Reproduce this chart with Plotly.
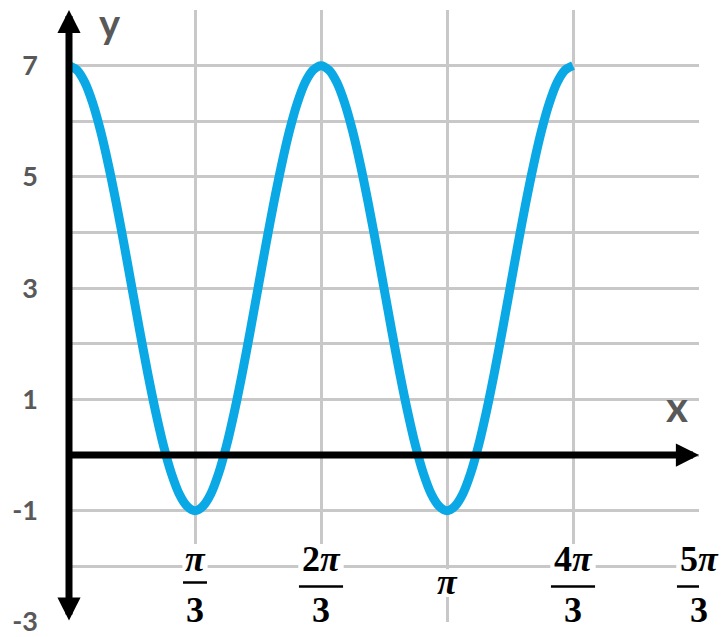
import plotly.graph_objects as go

# x in units of pi/3 ; y values
x_thirds_pi = [0, 0.0625, 0.125, 0.1875, 0.25, 0.3125, 0.375, 0.4375, 0.5,
               0.5625, 0.625, 0.6875, 0.75, 0.8125, 0.875, 0.9375, 1.0,
               1.0625, 1.125, 1.1875, 1.25, 1.3125, 1.375, 1.4375, 1.5,
               1.5625, 1.625, 1.6875, 1.75, 1.8125, 1.875, 1.9375, 2.0,
               2.0625, 2.125, 2.1875, 2.25, 2.3125, 2.375, 2.4375, 2.5,
               2.5625, 2.625, 2.6875, 2.75, 2.8125, 2.875, 2.9375, 3.0,
               3.0625, 3.125, 3.1875, 3.25, 3.3125, 3.375, 3.4375, 3.5,
               3.5625, 3.625, 3.6875, 3.75, 3.8125, 3.875, 3.9375, 4.0]
y_vals = [7, 6.92, 6.7, 6.33, 5.83, 5.22, 4.53, 3.78, 3,
          2.22, 1.47, 0.78, 0.17, -0.33, -0.7, -0.92, -1,
          -0.92, -0.7, -0.33, 0.17, 0.78, 1.47, 2.22, 3,
          3.78, 4.53, 5.22, 5.83, 6.33, 6.7, 6.92, 7,
          6.92, 6.7, 6.33, 5.83, 5.22, 4.53, 3.78, 3,
          2.22, 1.47, 0.78, 0.17, -0.33, -0.7, -0.92, -1,
          -0.92, -0.7, -0.33, 0.17, 0.78, 1.47, 2.22, 3,
          3.78, 4.53, 5.22, 5.83, 6.33, 6.7, 6.92, 7]

y_tick_vals = [7, 5, 3, 1, -1, -3]
y_tick_text = ["7", "5", "3", "1", "-1", "-3"]

x_tick_pos = [1, 2, 3, 4, 5]
x_tick_num = ["<i>π</i>", "2<i>π</i>", "<i>π</i>", "4<i>π</i>", "5<i>π</i>"]
x_tick_den = ["3", "3", "", "3", "3"]

GRID = "#c8c8c8"
LABEL = "#595959"
CURVE = "#0aa9e6"

fig = go.Figure()
fig.add_trace(go.Scatter(x=x_thirds_pi, y=y_vals, mode="lines",
                         line=dict(color=CURVE, width=9, shape="spline", smoothing=0.8),
                         hoverinfo="skip", showlegend=False))

shapes = []
annotations = []

SERIF = dict(family="Liberation Serif", size=36, color="black")

for pos, num, den in zip(x_tick_pos, x_tick_num, x_tick_den):
    if den:
        half = 0.1 if num == "<i>π</i>" else 0.18
        shapes.append(dict(type="rect", xref="x", yref="y", x0=pos - half, x1=pos + half,
                           y0=-2.95, y1=-1.6, fillcolor="white", line=dict(width=0), layer="above"))
        bar_y = -2.29 if num == "<i>π</i>" else -2.36
        shapes.append(dict(type="line", xref="x", yref="y", x0=pos - half + 0.005, x1=pos + half - 0.005,
                           y0=bar_y, y1=bar_y, line=dict(color="black", width=2.5), layer="above"))
        annotations.append(dict(x=pos, y=-1.86, xref="x", yref="y", text="<b>" + num + "</b>",
                                showarrow=False, xanchor="center", yanchor="middle", font=SERIF))
        annotations.append(dict(x=pos, y=-2.78, xref="x", yref="y", text="<b>" + den + "</b>",
                                showarrow=False, xanchor="center", yanchor="middle", font=SERIF))
    else:
        shapes.append(dict(type="rect", xref="x", yref="y", x0=pos - 0.09, x1=pos + 0.09,
                           y0=-2.55, y1=-2.05, fillcolor="white", line=dict(width=0), layer="above"))
        annotations.append(dict(x=pos, y=-2.28, xref="x", yref="y", text="<b>" + num + "</b>",
                                showarrow=False, xanchor="center", yanchor="middle", font=SERIF))

# axes with arrows
annotations.append(dict(x=5, y=0, ax=0, ay=0, xref="x", yref="y", axref="x", ayref="y",
                        text="", showarrow=True, arrowhead=2, arrowsize=0.66, arrowwidth=7,
                        arrowcolor="black"))
annotations.append(dict(x=0, y=8, ax=0, ay=-3, xref="x", yref="y", axref="x", ayref="y",
                        text="", showarrow=True, arrowhead=2, arrowsize=0.66, arrowwidth=7,
                        arrowside="end+start", startarrowhead=2, startarrowsize=0.66,
                        arrowcolor="black"))
# axis names
annotations.append(dict(x=0.325, y=7.77, xref="x", yref="y", text="<b>y</b>", showarrow=False,
                        xanchor="center", yanchor="middle",
                        font=dict(family="Lato", size=40, color=LABEL)))
annotations.append(dict(x=4.825, y=0.88, xref="x", yref="y", text="<b>x</b>", showarrow=False,
                        xanchor="center", yanchor="middle",
                        font=dict(family="Lato", size=42, color=LABEL)))

fig.update_layout(
    width=728, height=637,
    margin=dict(l=69, r=29, t=10, b=15),
    paper_bgcolor="white", plot_bgcolor="white",
    shapes=shapes, annotations=annotations,
    showlegend=False,
    xaxis=dict(range=[0, 5], tick0=0, dtick=1, showgrid=True, gridcolor=GRID, gridwidth=3,
               zeroline=False, showline=False, showticklabels=False, ticks="",
               fixedrange=True, automargin=False),
    yaxis=dict(range=[-3, 8], tickvals=y_tick_vals, ticktext=y_tick_text,
               showgrid=True, gridcolor=GRID, gridwidth=3,
               minor=dict(tick0=0, dtick=1, showgrid=True, gridcolor=GRID, gridwidth=3),
               zeroline=False, showline=False, ticks="", ticklabelstandoff=30,
               ticklabeloverflow="allow",
               tickfont=dict(family="Lato", size=27, color=LABEL, weight="bold"),
               fixedrange=True, automargin=False),
)

fig.write_html("out.html", config={"displayModeBar": False},
               post_script="document.body.style.margin='0';document.body.style.overflow='hidden';")
